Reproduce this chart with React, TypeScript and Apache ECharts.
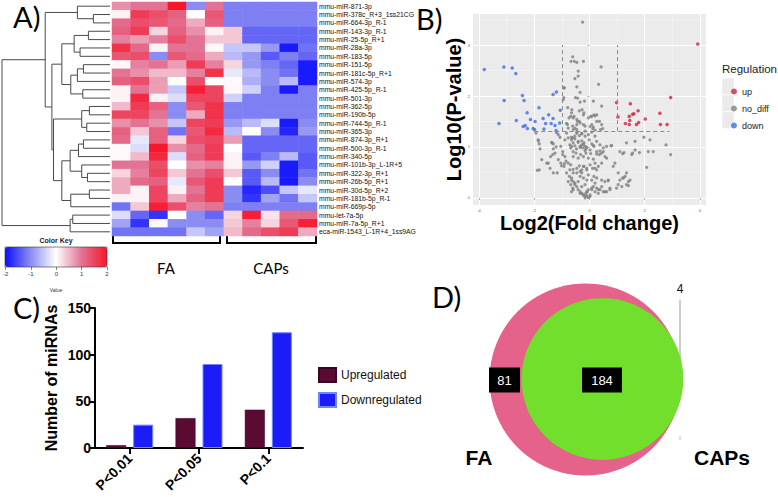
import React, { useEffect, useRef } from "react";
import * as echarts from "echarts";

// ---------- Panel A: heatmap ----------
const rowLabels = [
  "mmu-miR-871-3p", "mmu-miR-378c_R+3_1ss21CG", "mmu-miR-664-3p_R-1", "mmu-miR-143-3p_R-1",
  "mmu-miR-25-5p_R+1", "mmu-miR-28a-3p", "mmu-miR-183-5p", "mmu-miR-151-5p",
  "mmu-miR-181c-5p_R+1", "mmu-miR-574-3p", "mmu-miR-425-5p_R-1", "mmu-miR-501-3p",
  "mmu-miR-362-5p", "mmu-miR-190b-5p", "mmu-miR-744-5p_R-1", "mmu-miR-365-3p",
  "mmu-miR-874-3p_R+1", "mmu-miR-500-3p_R-1", "mmu-miR-340-5p", "mmu-miR-101b-3p_L-1R+5",
  "mmu-miR-322-3p_R+1", "mmu-miR-26b-5p_R+1", "mmu-miR-30d-5p_R+2", "mmu-miR-181b-5p_R-1",
  "mmu-miR-669p-5p", "mmu-let-7a-5p", "mmu-miR-7a-5p_R+1", "eca-miR-1543_L-1R+4_1ss9AG",
];
const sampleLabels = ["FA1", "FA2", "FA3", "FA4", "FA5", "FA6", "CAPs1", "CAPs2", "CAPs3", "CAPs4", "CAPs5"];
const heatValues = [
  [0.8, 1.0, 1.0, 2.0, -1.0, 1.0, -1.1, -1.1, -1.1, -1.1, -1.1],
  [0.1, 1.6, 1.4, 1.2, 0.0, 1.3, -1.1, -1.1, -1.1, -1.1, -1.1],
  [1.1, 1.4, 1.3, 1.1, 0.6, 1.2, -1.1, -1.1, -1.1, -1.1, -1.1],
  [1.2, 1.6, 0.3, 1.2, 0.8, 0.1, 0.4, -1.3, -1.3, -1.3, -1.3],
  [0.9, 0.7, 0.9, 1.4, 1.0, 0.4, 0.4, -1.3, -1.3, -1.3, -1.3],
  [1.7, 1.1, 0.1, 1.0, 1.0, 0.05, -0.5, -0.5, -0.9, -1.9, -1.2],
  [1.3, 1.4, -1.0, 1.3, 1.1, 0.6, -0.6, -0.9, -1.4, -1.1, -1.3],
  [0.05, 0.9, 1.0, 0.7, 1.6, 0.9, 0.3, -0.9, -1.1, -1.3, -1.9],
  [1.0, 0.8, 0.5, 0.5, 0.9, 1.7, -0.2, -0.6, -1.0, -1.2, -1.9],
  [1.2, 1.4, 0.7, 0.0, 1.4, 0.0, 0.05, -0.7, -1.0, -0.6, -1.9],
  [0.1, 1.0, 0.7, -0.5, 1.9, 1.5, 0.05, -0.4, -1.1, -1.9, -1.1],
  [0.1, 1.8, 0.1, -0.3, 1.5, 1.5, -0.4, -1.1, -1.1, -1.1, -1.1],
  [0.5, 1.6, 1.2, -1.0, 1.3, 1.7, -1.1, -1.1, -1.1, -1.1, -1.1],
  [1.5, 1.5, 1.0, -1.0, 0.6, 1.7, -1.1, -1.1, -1.1, -1.1, -1.1],
  [0.8, 1.0, 0.8, -0.5, 1.5, 1.6, -0.9, -0.6, -0.3, -1.9, -1.0],
  [1.2, 0.4, 1.2, -1.2, 1.3, 1.8, -0.6, 0.0, -1.0, -1.8, -0.9],
  [1.1, -0.2, 1.2, 0.3, 1.4, 1.5, 0.7, -1.3, -1.3, -1.3, -1.3],
  [0.05, -0.3, 2.0, 0.8, 1.1, 1.6, 0.0, -1.3, -1.3, -1.3, -1.3],
  [0.05, 0.5, 1.8, -0.3, 1.2, 1.6, 0.1, -1.4, -1.1, -0.6, -1.4],
  [1.0, 1.0, 1.4, 0.0, 0.8, 0.9, 0.1, -0.9, -0.4, -1.9, -1.4],
  [0.3, 0.9, 1.5, 0.4, 1.0, 1.4, 0.4, -1.4, -1.0, -1.9, -1.2],
  [0.6, 1.1, 1.2, -0.2, 1.3, 1.6, 0.0, -1.4, -0.6, -1.9, -1.0],
  [0.6, 0.1, 1.5, 0.1, 1.0, 1.6, -1.0, -1.8, -1.5, -0.5, -0.2],
  [0.1, 0.1, 1.5, 0.6, 1.2, 1.6, -1.0, -1.7, -0.8, -1.2, -0.5],
  [-1.2, 0.4, 1.9, 1.4, 0.9, 1.0, -1.1, -1.1, -1.1, -1.1, -1.1],
  [-0.3, -1.3, -1.7, 0.0, -1.0, -1.3, 0.3, 1.9, 0.2, 1.1, 1.1],
  [-0.8, -1.7, 0.05, -1.0, -1.0, -1.0, 0.4, 0.9, 0.3, 1.3, 1.9],
  [-1.2, -1.2, -1.2, -1.2, -0.5, -0.8, 0.5, 1.1, 1.4, 1.6, 0.6],
];
// hierarchical clustering of rows: [childA, childB, height]; leaves 0..27, merges 28+
const rowLinkage: [number, number, number][] = [
  [1, 2, 1.54], [0, 28, 3.02], [3, 4, 2.0], [5, 6, 2.77], [30, 31, 3.32],
  [7, 8, 2.46], [33, 9, 3.02], [10, 11, 2.52], [34, 35, 3.63], [32, 36, 4.46],
  [12, 13, 1.91], [14, 15, 2.15], [38, 39, 2.62], [16, 17, 2.46], [41, 18, 2.92],
  [20, 21, 2.09], [19, 43, 2.62], [42, 44, 3.69], [22, 23, 1.91], [46, 24, 3.63],
  [45, 47, 4.46], [40, 48, 5.23], [37, 49, 5.38], [29, 50, 6.0], [25, 26, 3.45],
  [52, 27, 3.69], [51, 53, 10.0],
];

// ---------- Panel B: volcano ----------
const volcanoUp: [number, number][] = [
  [3.92, 3.02], [2.94, 1.97], [0.98, 1.87], [1.48, 1.85], [1.03, 1.59], [1.76, 1.71],
  [1.61, 1.65], [1.56, 1.64], [1.44, 1.6], [1.46, 1.52], [1.3, 1.46], [1.44, 1.44],
  [1.7, 1.44], [1.78, 1.48], [2.02, 1.55], [2.55, 1.66], [2.57, 1.44], [2.81, 1.44],
];
const volcanoDown: [number, number][] = [
  [-3.81, 2.52], [-3.1, 2.57], [-2.8, 2.55], [-2.67, 2.44], [-3.09, 1.91], [-2.43, 2.01],
  [-2.37, 1.91], [-3.28, 1.46], [-2.65, 1.52], [-2.26, 1.67], [-2.14, 1.54], [-2.4, 1.4],
  [-2.33, 1.42], [-2.25, 1.36], [-2.04, 1.36], [-1.97, 1.5], [-1.99, 1.34], [-1.83, 1.77],
  [-1.68, 1.56], [-1.65, 1.35], [-1.59, 1.46], [-1.48, 1.63], [-1.39, 1.46], [-1.32, 1.56],
  [-1.25, 1.42], [-1.21, 1.32], [-1.32, 2.03], [-1.2, 2.08], [-1.06, 1.72], [-1.08, 1.47],
];
const volcanoNoDiff: [number, number][] = [
  [-0.25, 3.45], [-0.61, 2.77], [-0.67, 2.68], [-0.55, 2.68], [-0.46, 2.66], [-0.22, 2.68],
  [0.42, 2.57], [-0.41, 2.49], [-0.53, 2.34], [0.33, 2.23], [-0.93, 2.16], [-0.46, 2.18],
  [-0.34, 2.07], [-0.93, 1.97], [-0.51, 1.97], [0.14, 1.9], [0.44, 1.8], [-0.34, 1.88],
  [-0.79, 1.77], [-0.64, 1.73], [-0.37, 1.71], [-0.27, 1.73], [-0.2, 1.67], [0.08, 1.6],
  [0.16, 1.63], [0.26, 1.63], [-0.68, 1.6], [-0.59, 1.57], [0.36, 1.5], [0.44, 1.44],
  [-0.44, 1.5], [-0.34, 1.47], [-0.22, 1.44], [-0.16, 1.41], [-0.83, 1.46], [-0.77, 1.37],
  [-0.61, 1.41], [-0.53, 1.37], [-0.46, 1.34], [0.02, 1.4], [0.12, 1.36], [0.2, 1.33],
  [-0.41, 2.39], [-0.18, 1.9], [-0.74, 1.57], [-0.8, 1.44], [-0.46, 1.44], [-0.61, 1.18],
  [-0.53, 1.21], [-0.95, 1.93], [-0.91, 2.16], [-0.43, 1.96], [-0.65, 1.67], [-0.56, 1.6],
  [-0.46, 1.54], [-0.37, 1.5], [-0.22, 1.63], [-0.04, 1.57], [0.04, 1.6], [0.2, 1.61],
  [0.26, 1.5], [0.4, 1.34], [0.48, 1.36], [0.08, 1.44], [0.14, 1.39], [-0.59, 1.34],
  [-0.46, 1.29], [-0.28, 1.26], [-0.16, 1.31],
  [-1.94, 1.27], [-1.86, 1.14], [-1.82, 1.06], [-1.79, 0.96], [-1.89, 0.54], [-1.82, 0.55],
  [-1.55, 0.68], [-1.41, 0.81], [-1.31, 0.96], [-1.25, 0.88], [-1.36, 1.08], [-1.31, 1.06],
  [-1.43, 0.58], [-1.31, 0.49], [-1.17, 0.49], [-1.07, 1.19], [-1.04, 1.01], [-0.97, 0.91],
  [-1.13, 0.75], [-1.04, 0.68], [-1.01, 0.63], [-0.92, 0.62], [-0.89, 0.81], [-0.85, 0.72],
  [-0.77, 0.68], [-0.68, 0.65], [-0.83, 0.49], [-0.73, 0.42], [-0.65, 0.39], [-0.59, 0.32],
  [-0.53, 0.26], [-0.61, 0.19], [-0.65, 0.12], [-0.46, 0.22], [-0.41, 0.16], [-0.34, 0.12],
  [-0.28, 0.09], [-0.22, 0.06], [-0.16, 0.03], [-0.1, 0.04], [-0.04, 0.01], [0.02, 0.06],
  [-0.13, 0.09], [-0.08, 0.12], [0.08, 0.16], [0.14, 0.22], [0.2, 0.12], [0.26, 0.19],
  [0.32, 0.09], [0.38, 0.16], [0.5, 0.12], [0.62, 0.12], [0.74, 0.19], [0.44, 0.35],
  [0.56, 0.32], [0.68, 0.35], [0.08, 0.35], [0.16, 0.42], [0.26, 0.39], [-0.34, 0.42],
  [-0.28, 0.49], [-0.22, 0.39], [-0.1, 0.35], [-0.04, 0.45], [-0.46, 0.58], [-0.37, 0.63],
  [-0.28, 0.55], [-0.2, 0.62], [-0.1, 0.58], [0.02, 0.65], [0.11, 0.58], [0.2, 0.68],
  [0.26, 0.55], [-0.59, 0.81], [-0.49, 0.88], [-0.41, 0.78], [-0.32, 0.85], [-0.22, 0.81],
  [-0.13, 0.88], [-0.04, 0.78], [0.04, 0.87], [0.14, 0.76], [0.26, 0.91], [0.36, 0.85],
  [0.44, 0.88], [0.56, 0.81], [-0.41, 1.11], [-0.34, 1.01], [-0.28, 1.04], [-0.25, 0.98],
  [-0.2, 1.08], [-0.16, 1.01], [-0.13, 0.96], [-0.65, 1.14], [-0.59, 1.08], [-0.53, 1.02],
  [-0.68, 0.98], [-0.01, 1.14], [0.08, 1.06], [0.16, 1.01], [0.26, 1.11], [0.38, 1.04],
  [0.5, 0.98], [0.62, 1.01], [-0.46, 1.27], [-0.37, 1.22], [-0.28, 1.26], [-0.16, 1.21],
  [-0.04, 1.24], [0.08, 1.29], [0.2, 1.21], [-0.83, 1.27], [-0.77, 1.18], [-1.19, 1.28],
  [-1.13, 1.24], [-1.85, 1.12], [-1.73, 0.75], [-1.49, 0.68], [-1.33, 0.85], [-1.37, 1.09],
  [-1.21, 1.0], [-0.97, 0.85], [-0.91, 0.67], [-0.71, 0.55], [-0.59, 0.49], [-0.77, 0.32],
  [-0.68, 0.26], [-0.59, 0.16], [-0.89, 1.14], [-0.71, 1.04], [-0.65, 1.01],
  [-0.65, 1.19], [-0.53, 1.16], [-0.41, 1.09], [-0.28, 1.12], [-0.22, 1.05], [-0.34, 0.99],
  [-0.47, 0.96], [-0.59, 0.91], [-0.16, 0.93], [-0.1, 0.99], [0.02, 0.94], [0.14, 1.03],
  [0.26, 0.86], [0.38, 0.92], [0.5, 0.91], [0.62, 0.78], [0.44, 0.68], [0.32, 0.62],
  [0.2, 0.58], [-0.1, 0.55], [-0.22, 0.62], [-0.34, 0.52], [-0.46, 0.49], [-0.59, 0.56],
  [-0.65, 0.35], [-0.53, 0.29], [-0.41, 0.32], [-0.28, 0.22], [-0.16, 0.26], [-0.04, 0.16],
  [0.08, 0.19], [0.2, 0.29], [0.32, 0.16], [0.44, 0.22], [0.56, 0.12], [0.68, 0.34],
  [0.74, 0.16], [-0.34, 0.09], [-0.22, 0.06], [-0.1, 0.12], [0.02, 0.03], [-0.16, 0.0],
  [0.78, 1.02], [1.1, 0.91], [1.2, 0.87], [1.25, 0.89], [1.34, 1.08], [1.53, 0.85],
  [1.56, 0.88], [1.65, 1.11], [1.81, 0.89], [1.97, 1.19], [2.13, 0.91], [2.31, 0.91],
  [2.19, 1.14], [2.07, 0.6], [2.77, 1.04], [2.94, 0.85], [1.04, 0.49], [1.1, 0.35],
  [1.2, 0.39], [1.29, 0.42], [1.34, 0.49], [1.41, 0.32], [0.98, 0.19], [1.04, 0.26],
  [1.17, 0.22], [1.34, 0.26], [0.86, 0.62], [0.92, 0.68], [0.8, 1.03], [1.65, 0.94],
  [1.23, 0.39], [1.47, 0.35], [1.41, 0.24],
];
const volcanoXTicks = [-4, -2, 0, 2, 4];
const volcanoXMinor = [-3, -1, 1, 3];
const volcanoYTicks = [0, 1, 2, 3];
const volcanoYMinor = [0.5, 1.5, 2.5, 3.5];
const foldThreshold = 1;
const pThreshold = 1.31;
const dashTop = 3.0;
const dashLeft = -2.0;
const dashRight = 2.9;
const regulationNames = ["up", "no_diff", "down"];

// ---------- Panel C: bars ----------
const pCategories = ["P<0.01", "P<0.05", "P<0.1"];
const upregulated = [3, 32, 41];
const downregulated = [25, 90, 124];
const barYTicks = [0, 50, 100, 150];

// ---------- Panel D: venn ----------
const vennSetNames = ["FA", "CAPs"];
const vennOnlyCounts = [81, 4];
const vennSharedCount = 184;

function dendroSegments() {
  const n = rowLabels.length;
  const pos: number[] = [];
  const hgt: number[] = [];
  for (let i = 0; i < n; i++) {
    pos[i] = i;
    hgt[i] = 0;
  }
  const segs: any[] = [];
  rowLinkage.forEach(([a, b, h], k) => {
    const id = n + k;
    pos[id] = (pos[a] + pos[b]) / 2;
    hgt[id] = h;
    segs.push({
      coords: [
        [hgt[a], pos[a]],
        [h, pos[a]],
        [h, pos[b]],
        [hgt[b], pos[b]],
      ],
    });
  });
  return segs;
}

export default function App() {
  const ref = useRef<HTMLDivElement>(null);
  useEffect(() => {
    if (!ref.current) return;
    document.body.style.margin = "0";
    const chart = echarts.init(ref.current, undefined, { renderer: "svg" });

    const heatData: number[][] = [];
    heatValues.forEach((row, r) => row.forEach((v, c) => heatData.push([c, r, v])));

    const faTotal = vennOnlyCounts[0] + vennSharedCount;
    const capsTotal = vennOnlyCounts[1] + vennSharedCount;
    const vennK = 192 / Math.sqrt(faTotal);
    const faSize = vennK * Math.sqrt(faTotal);
    const capsSize = vennK * Math.sqrt(capsTotal);
    // venn layout (grid units = px within panel D)
    const faCenter = [145.5, 129.5];
    const capsCenter = [faCenter[0] + (faSize - capsSize) / 2 + 1.8, 129];

    const arial = "Liberation Sans";
    const lato = "Lato";

    const option: any = {
      animation: false,
      backgroundColor: "#ffffff",
      grid: [
        { left: 2, top: 2, width: 108, height: 234 },
        { left: 112, top: 2, width: 205, height: 234 },
        { left: 5, top: 247, width: 102, height: 20 },
        { left: 473, top: 14, width: 233, height: 191, show: true, backgroundColor: "#ebebeb", borderWidth: 0 },
        { left: 95, top: 308, width: 208, height: 140 },
        { left: 440, top: 250, width: 338, height: 247 },
      ],
      xAxis: [
        { gridIndex: 0, type: "value", min: 0, max: 10, inverse: true, show: false },
        { gridIndex: 1, type: "category", data: sampleLabels, show: false },
        {
          gridIndex: 2, type: "value", min: -2, max: 2, interval: 1,
          axisLine: { show: false },
          axisTick: { show: true, length: 3, lineStyle: { color: "#333", width: 0.6 } },
          axisLabel: { fontSize: 6, color: "#333", margin: 4, fontFamily: arial },
          splitLine: { show: false },
        },
        {
          gridIndex: 3, type: "value", min: -4.22, max: 4.22,
          axisLine: { show: false },
          axisTick: { show: true, length: 2, lineStyle: { color: "#555", width: 0.5 }, customValues: volcanoXTicks },
          axisLabel: { fontSize: 4, color: "#666", margin: 3, customValues: volcanoXTicks, fontFamily: arial },
          splitLine: { show: true, lineStyle: { color: "#ffffff", width: 1 } },
          name: "Log2(Fold change)", nameLocation: "middle", nameGap: 8,
          nameTextStyle: { fontSize: 20, fontWeight: "bold", fontFamily: arial, color: "#000" },
        },
        {
          gridIndex: 3, type: "value", min: -4.22, max: 4.22,
          axisLine: { show: false },
          axisTick: { show: false, customValues: volcanoXMinor },
          axisLabel: { show: false, customValues: volcanoXMinor },
          splitLine: { show: true, lineStyle: { color: "#f6f6f6", width: 0.5 } },
        },
        {
          gridIndex: 4, type: "category", data: pCategories,
          axisLine: { show: true, lineStyle: { color: "#000", width: 2 } },
          axisTick: { show: true, alignWithLabel: true, length: 6, lineStyle: { color: "#000", width: 2 } },
          axisLabel: { rotate: 45, fontSize: 14, fontWeight: "bold", color: "#000", margin: 8, fontFamily: arial, interval: 0 },
        },
        { gridIndex: 5, type: "value", min: 0, max: 338, show: false },
      ],
      yAxis: [
        { gridIndex: 0, type: "value", min: -0.5, max: rowLabels.length - 0.5, inverse: true, show: false },
        {
          gridIndex: 1, type: "category", data: rowLabels, inverse: true, position: "right",
          axisLine: { show: false }, axisTick: { show: false },
          axisLabel: { fontSize: 6.8, color: "#111", margin: 2, fontFamily: arial, interval: 0 },
        },
        { gridIndex: 2, type: "value", min: 0, max: 1, show: false },
        {
          gridIndex: 3, type: "value", min: -0.14, max: 3.61,
          axisLine: { show: false },
          axisTick: { show: true, length: 2, lineStyle: { color: "#555", width: 0.5 }, customValues: volcanoYTicks },
          axisLabel: { fontSize: 4, color: "#666", margin: 3, customValues: volcanoYTicks, fontFamily: arial },
          splitLine: { show: true, lineStyle: { color: "#ffffff", width: 1 } },
          name: "Log10(P-value)", nameLocation: "middle", nameGap: 3,
          nameTextStyle: { fontSize: 20, fontWeight: "bold", fontFamily: arial, color: "#000" },
        },
        {
          gridIndex: 3, type: "value", min: -0.14, max: 3.61,
          axisLine: { show: false },
          axisTick: { show: false, customValues: volcanoYMinor },
          axisLabel: { show: false, customValues: volcanoYMinor },
          splitLine: { show: true, lineStyle: { color: "#f6f6f6", width: 0.5 } },
        },
        {
          gridIndex: 4, type: "value", min: barYTicks[0], max: barYTicks[barYTicks.length - 1], interval: 50,
          axisLine: { show: true, lineStyle: { color: "#000", width: 2 } },
          axisTick: { show: true, length: 6, lineStyle: { color: "#000", width: 2 } },
          axisLabel: { fontSize: 14, fontWeight: "bold", color: "#000", margin: 4, fontFamily: arial },
          splitLine: { show: false },
          name: "Number of miRNAs", nameLocation: "middle", nameGap: 36,
          nameTextStyle: { fontSize: 16, fontWeight: "bold", fontFamily: arial, color: "#000" },
        },
        { gridIndex: 5, type: "value", min: 0, max: 247, inverse: true, show: false },
      ],
      visualMap: {
        type: "continuous", seriesIndex: 1, min: -2, max: 2, orient: "horizontal",
        left: 5, top: 247, itemWidth: 20, itemHeight: 102, padding: 0, calculable: false,
        hoverLink: false,
        inRange: { color: ["#0d0dff", "#8a8cf2", "#ffffff", "#e27394", "#f8162b"] },
      },
      legend: [
        {
          data: regulationNames, orient: "vertical", left: 726, top: 81, icon: "circle",
          itemWidth: 6, itemHeight: 6, itemGap: 6, selectedMode: false,
          textStyle: { fontSize: 9, lineHeight: 11, color: "#1a1a1a", fontFamily: arial },
        },
        {
          data: ["Upregulated", "Downregulated"], orient: "vertical", left: 313, top: 362, icon: "rect",
          itemWidth: 17, itemHeight: 14, itemGap: 9, selectedMode: false,
          textStyle: { fontSize: 12, color: "#111", fontFamily: arial },
        },
      ],
      series: [
        {
          type: "lines", coordinateSystem: "cartesian2d", xAxisIndex: 0, yAxisIndex: 0, polyline: true,
          silent: true, lineStyle: { color: "#4a4a4a", width: 1, opacity: 1 }, data: dendroSegments(),
        },
        { type: "heatmap", xAxisIndex: 1, yAxisIndex: 1, data: heatData, silent: true },
        { type: "scatter", xAxisIndex: 2, yAxisIndex: 2, data: [] },
        {
          name: "up", type: "scatter", xAxisIndex: 3, yAxisIndex: 3, data: volcanoUp, symbolSize: 3.5,
          itemStyle: { color: "#d7213f" }, z: 3,
        },
        {
          name: "no_diff", type: "scatter", xAxisIndex: 3, yAxisIndex: 3, data: volcanoNoDiff, symbolSize: 3.2,
          itemStyle: { color: "#7f7f7f" }, z: 3,
          markLine: {
            symbol: "none", silent: true, label: { show: false },
            lineStyle: { type: [4, 3], color: "#8a8a8a", width: 1 },
            data: [
              [{ coord: [-foldThreshold, pThreshold] }, { coord: [-foldThreshold, dashTop] }],
              [{ coord: [foldThreshold, pThreshold] }, { coord: [foldThreshold, dashTop] }],
              [{ coord: [dashLeft, pThreshold] }, { coord: [dashRight, pThreshold] }],
            ],
          },
        },
        {
          name: "down", type: "scatter", xAxisIndex: 3, yAxisIndex: 3, data: volcanoDown, symbolSize: 3.5,
          itemStyle: { color: "#3b6ee6" }, z: 3,
        },
        {
          name: "Upregulated", type: "bar", xAxisIndex: 5, yAxisIndex: 5, data: upregulated, barWidth: 20, barGap: "35%",
          itemStyle: { color: "#5b0b31", borderColor: "#3a0620", borderWidth: 0.5 },
        },
        {
          name: "Downregulated", type: "bar", xAxisIndex: 5, yAxisIndex: 5, data: downregulated, barWidth: 20,
          itemStyle: { color: "#1c1cf8", borderColor: "#6d88ff", borderWidth: 1 },
        },
        {
          name: vennSetNames[0], type: "scatter", xAxisIndex: 6, yAxisIndex: 6, silent: true,
          data: [faCenter], symbolSize: faSize, itemStyle: { color: "#e5628a", opacity: 1 }, z: 1,
        },
        {
          name: vennSetNames[1], type: "scatter", xAxisIndex: 6, yAxisIndex: 6, silent: true,
          data: [capsCenter], symbolSize: capsSize, itemStyle: { color: "#71df2b", opacity: 1 }, z: 2,
        },
        {
          type: "scatter", xAxisIndex: 6, yAxisIndex: 6, silent: true, symbol: "rect", z: 4,
          itemStyle: { color: "#000000", opacity: 1 },
          data: [
            { name: String(vennOnlyCounts[0]), value: [64.5, 130], symbolSize: [31, 25] },
            { name: String(vennSharedCount), value: [162, 130], symbolSize: [40, 25] },
          ],
          label: {
            show: true, position: "inside", formatter: "{b}", color: "#fff", fontSize: 13,
            fontFamily: arial,
          },
        },
      ],
      graphic: [
        { type: "text", left: 13, top: 2, style: { text: "A)", fontSize: 29, fontFamily: lato, fill: "#000" } },
        { type: "text", left: 416, top: 4, style: { text: "B)", fontSize: 29, fontFamily: lato, fill: "#000" } },
        { type: "text", left: 13, top: 293, style: { text: "C)", fontSize: 29, fontFamily: lato, fill: "#000" } },
        { type: "text", left: 432, top: 282, style: { text: "D)", fontSize: 29, fontFamily: lato, fill: "#000" } },
        { type: "text", x: 56, y: 240, style: { text: "Color Key", fontSize: 7, fontWeight: "bold", fontFamily: arial, fill: "#222", align: "center", verticalAlign: "middle" } },
        { type: "text", x: 56, y: 290, style: { text: "Value", fontSize: 5, fontFamily: arial, fill: "#333", align: "center", verticalAlign: "middle" } },
        { type: "rect", shape: { x: 5, y: 247, width: 102, height: 20 }, style: { fill: "none", stroke: "#333", lineWidth: 0.6 }, z: 100 },
        { type: "polyline", shape: { points: [[113, 236], [113, 243], [220, 243], [220, 236]] }, style: { stroke: "#000", lineWidth: 2, fill: "none" } },
        { type: "polyline", shape: { points: [[227, 236], [227, 243], [316, 243], [316, 236]] }, style: { stroke: "#000", lineWidth: 2, fill: "none" } },
        { type: "text", x: 166, y: 268, style: { text: "FA", fontSize: 15, fontFamily: lato, fill: "#000", align: "center", verticalAlign: "middle" } },
        { type: "text", x: 271, y: 268, style: { text: "CAPs", fontSize: 15, fontFamily: lato, fill: "#000", align: "center", verticalAlign: "middle" } },
        { type: "text", x: 722, y: 69, style: { text: "Regulation", fontSize: 11.5, fontFamily: arial, fill: "#222", verticalAlign: "middle" } },
        { type: "rect", shape: { x: 722, y: 78, width: 12, height: 16.5 }, style: { fill: "#ebebeb", stroke: "#fff", lineWidth: 0.5 }, z: -1 },
        { type: "rect", shape: { x: 722, y: 95, width: 12, height: 16.5 }, style: { fill: "#ebebeb", stroke: "#fff", lineWidth: 0.5 }, z: -1 },
        { type: "rect", shape: { x: 722, y: 112, width: 12, height: 16.5 }, style: { fill: "#ebebeb", stroke: "#fff", lineWidth: 0.5 }, z: -1 },
        { type: "text", x: 680, y: 289, style: { text: String(vennOnlyCounts[1]), fontSize: 12, fontFamily: arial, fill: "#111", align: "center", verticalAlign: "middle" } },
        { type: "line", shape: { x1: 680, y1: 300, x2: 680, y2: 382 }, style: { stroke: "#9a9a9a", lineWidth: 1 } },
        { type: "line", shape: { x1: 680, y1: 436, x2: 680, y2: 440 }, style: { stroke: "#bbb", lineWidth: 1 } },
        { type: "text", x: 479, y: 457, style: { text: vennSetNames[0], fontSize: 21, fontWeight: "bold", fontFamily: arial, fill: "#000", align: "center", verticalAlign: "middle" } },
        { type: "text", x: 722, y: 457, style: { text: vennSetNames[1], fontSize: 21, fontWeight: "bold", fontFamily: arial, fill: "#000", align: "center", verticalAlign: "middle" } },
      ],
    };

    chart.setOption(option);
    return () => chart.dispose();
  }, []);

  return <div ref={ref} style={{ position: "absolute", left: 0, top: 0, width: 778, height: 497 }} />;
}
